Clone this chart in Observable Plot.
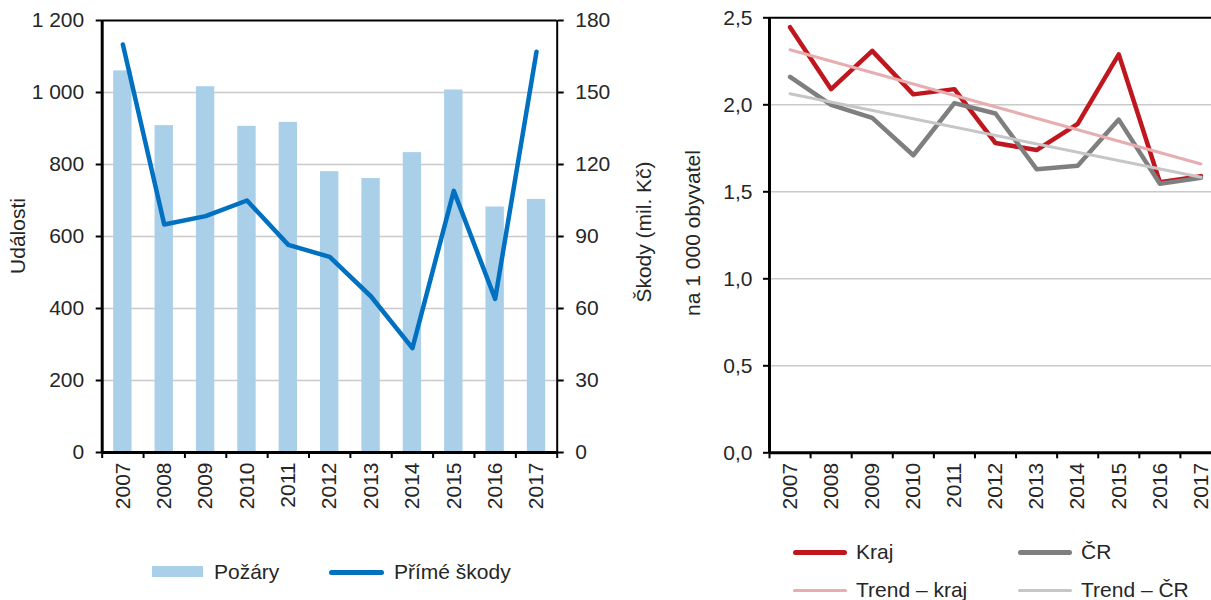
<!DOCTYPE html>
<html><head><meta charset="utf-8">
<script src="https://cdn.jsdelivr.net/npm/d3@7"></script>
<script src="https://cdn.jsdelivr.net/npm/@observablehq/plot@0.6"></script>
<style>
html,body{margin:0;padding:0;width:1211px;height:600px;overflow:hidden;background:#fff;font-family:"Liberation Sans",Arial,sans-serif;color:#262626}
#left{position:absolute;left:0;top:0;width:700px}
#right{position:absolute;left:660px;top:0;width:700px}
#left svg,#right svg{max-width:none !important}
.t{position:absolute;font-size:21px;white-space:nowrap;line-height:1}
.rot{position:absolute;font-size:21px;white-space:nowrap;line-height:1;transform:translate(-50%,-50%) rotate(-90deg)}
.sw{position:absolute}
</style></head><body>
<div id="left"></div>
<div id="right"></div>
<div class="rot" style="left:17px;top:236px">Události</div>
<div class="rot" style="left:643px;top:232px">Škody (mil. Kč)</div>
<div class="rot" style="left:692px;top:233px">na 1 000 obyvatel</div>
<div id="legend"></div>
<script>
const years = [2007, 2008, 2009, 2010, 2011, 2012, 2013, 2014, 2015, 2016, 2017];
const pozary = [1060, 908, 1016, 906, 917, 780, 761, 833, 1007, 682, 703];
const skody = [170, 95, 98.5, 105, 86.5, 81.5, 65, 43.5, 109, 64, 167];
const kraj = [2.446, 2.09, 2.31, 2.06, 2.09, 1.78, 1.74, 1.89, 2.29, 1.555, 1.59];
const cr = [2.16, 2.0, 1.925, 1.71, 2.01, 1.95, 1.63, 1.65, 1.915, 1.546, 1.58];
const trendYears = [2007, 2017];
const trendKraj = [2.316, 1.66];
const trendCR = [2.063, 1.584];
const leftTicks = [0, 200, 400, 600, 800, 1000, 1200];
const rightTickLabels = ["0", "30", "60", "90", "120", "150", "180"];
const rightTicks = [0, 0.5, 1.0, 1.5, 2.0, 2.5];
const boundaries = [2006.5, 2007.5, 2008.5, 2009.5, 2010.5, 2011.5, 2012.5, 2013.5, 2014.5, 2015.5, 2016.5, 2017.5];
const legendLeft = ["Požáry", "Přímé škody"];
const legendRight = ["Kraj", "ČR", "Trend – kraj", "Trend – ČR"];

const C = {bar: "#a9cfe9", line: "#0070c0", kraj: "#c0171f", cr: "#7f7f7f", tkraj: "#e6aeb0", tcr: "#c6c6c6", grid: "#cacaca"};
const k = 1200 / 180;
const leftData = years.map((y, i) => ({year: y, pozary: pozary[i], skody: skody[i]}));
const style = {fontFamily: '"Liberation Sans", Arial, sans-serif', fontSize: "21px", color: "#262626", overflow: "visible", background: "transparent", maxWidth: "none"};
const fmtSpace = d => d3.format(",")(d).replace(/,/g, " ");
const fmtComma = d => d.toFixed(1).replace(".", ",");

const left = Plot.plot({
  width: 620, height: 520,
  marginLeft: 101.7, marginRight: 63.3, marginTop: 20, marginBottom: 68,
  style,
  x: {domain: [2006.5, 2017.5]},
  y: {domain: [0, 1200]},
  marks: [
    Plot.ruleY(leftTicks.filter(d => d > 0 && d < 1200), {stroke: C.grid, strokeWidth: 1.5}),
    Plot.rectY(leftData, {x1: d => d.year - 0.5, x2: d => d.year + 0.5, y: "pozary", fill: C.bar, insetLeft: 11.5, insetRight: 11.5}),
    Plot.line(leftData, {x: "year", y: d => d.skody * k, stroke: C.line, strokeWidth: 4.5, strokeLinejoin: "round", strokeLinecap: "round"}),
    Plot.axisY({ticks: leftTicks, tickFormat: fmtSpace, tickSize: 6, tickPadding: 12, label: null, stroke: "#000", strokeWidth: 2}),
    Plot.axisY({anchor: "right", ticks: leftTicks, tickFormat: (d, i) => rightTickLabels[i], tickSize: 6, tickPadding: 12, label: null, stroke: "#000", strokeWidth: 2}),
    Plot.axisX({ticks: years, tickFormat: d => String(d), tickRotate: -90, tickSize: 0, tickPadding: 10, label: null}),
    Plot.axisX({ticks: boundaries, tickFormat: () => "", tickSize: 6, label: null, stroke: "#000", strokeWidth: 2}),
    Plot.ruleY([0], {stroke: "#000", strokeWidth: 3}),
    Plot.ruleY([1200], {stroke: "#000", strokeWidth: 2}),
    Plot.ruleX([2006.5], {stroke: "#000", strokeWidth: 3}),
    Plot.ruleX([2017.5], {stroke: "#000", strokeWidth: 2})
  ]
});
document.getElementById("left").append(left);

const rData = years.map((y, i) => ({year: y, kraj: kraj[i], cr: cr[i]}));
const tData = trendYears.map((y, i) => ({year: y, tk: trendKraj[i], tc: trendCR[i]}));
const right = Plot.plot({
  width: 580, height: 520,
  marginLeft: 109, marginRight: 19, marginTop: 17.3, marginBottom: 67.7,
  style,
  x: {domain: [2006.5, 2017.5]},
  y: {domain: [0, 2.5]},
  marks: [
    Plot.ruleY(rightTicks.filter(d => d > 0 && d < 2.5), {stroke: C.grid, strokeWidth: 1.5}),
    Plot.line(rData, {x: "year", y: "kraj", stroke: C.kraj, strokeWidth: 4.5, strokeLinejoin: "round"}),
    Plot.line(rData, {x: "year", y: "cr", stroke: C.cr, strokeWidth: 4.5, strokeLinejoin: "round"}),
    Plot.line(tData, {x: "year", y: "tk", stroke: C.tkraj, strokeWidth: 3}),
    Plot.line(tData, {x: "year", y: "tc", stroke: C.tcr, strokeWidth: 3}),
    Plot.axisY({ticks: rightTicks, tickFormat: fmtComma, tickSize: 6, tickPadding: 11, label: null, stroke: "#000", strokeWidth: 2}),
    Plot.axisX({ticks: years, tickFormat: d => String(d), tickRotate: -90, tickSize: 0, tickPadding: 10, label: null}),
    Plot.axisX({ticks: boundaries, tickFormat: () => "", tickSize: 6, label: null, stroke: "#000", strokeWidth: 2}),
    Plot.ruleY([0], {stroke: "#000", strokeWidth: 3}),
    Plot.ruleY([2.5], {stroke: "#000", strokeWidth: 2}),
    Plot.ruleX([2006.5], {stroke: "#000", strokeWidth: 3})
  ]
});
document.getElementById("right").append(right);

// legends
const lg = document.getElementById("legend");
function sw(x, y, w, h, color) {
  const d = document.createElement("div");
  d.className = "sw";
  d.style.cssText = `left:${x}px;top:${y}px;width:${w}px;height:${h}px;background:${color};border-radius:${h > 8 ? 0 : h / 2}px`;
  lg.append(d);
}
function txt(x, yc, s) {
  const d = document.createElement("div");
  d.className = "t";
  d.style.cssText = `left:${x}px;top:${yc - 11}px`;
  d.textContent = s;
  lg.append(d);
}
sw(152, 566, 51, 11, C.bar); txt(214, 572, legendLeft[0]);
sw(329, 569.5, 55, 5, C.line); txt(394, 572, legendLeft[1]);
sw(793, 549.5, 54, 5, C.kraj); txt(856, 552, legendRight[0]);
sw(1018, 549.5, 54, 5, C.cr); txt(1081, 552, legendRight[1]);
sw(793, 588.5, 54, 3, C.tkraj); txt(856, 590, legendRight[2]);
sw(1018, 588.5, 54, 3, C.tcr); txt(1081, 590, legendRight[3]);
</script>
</body></html>
